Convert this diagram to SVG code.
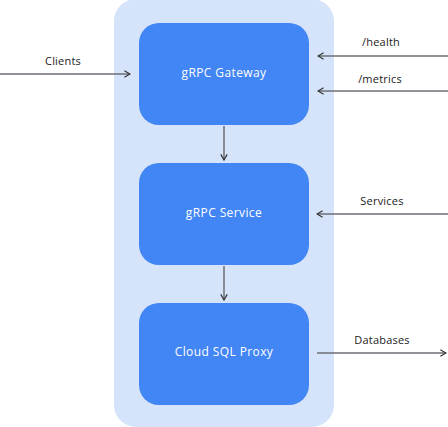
<svg xmlns="http://www.w3.org/2000/svg" width="448" height="427" viewBox="0 0 448 427">
<style>
.node{fill:#4285f4}
.ntext{font-family:"Open Sans","Liberation Sans",sans-serif;font-size:12px;letter-spacing:0.4px;fill:#ffffff;text-anchor:middle}
.ltext{font-family:"Open Sans","Liberation Sans",sans-serif;font-size:11px;letter-spacing:0.2px;fill:#222222;text-anchor:middle}
.conn{stroke:#6b6e74;stroke-width:1.5;fill:none}
</style>
<defs>
<marker id="arr" viewBox="0 0 10 10" refX="9" refY="5" markerWidth="8" markerHeight="8" markerUnits="userSpaceOnUse" orient="auto">
<path d="M2,1 L9,5 L2,9" fill="none" stroke="#333" stroke-width="1.5"/>
</marker>
</defs>
<rect id="container" x="114" y="-1" width="220" height="428" rx="22" fill="#d6e4fb"/>
<g id="gateway"><rect class="node" x="139" y="23" width="170" height="102" rx="20"/><text class="ntext" x="224" y="77">gRPC Gateway</text></g>
<g id="service"><rect class="node" x="139" y="163" width="170" height="102" rx="20"/><text class="ntext" x="224" y="217">gRPC Service</text></g>
<g id="proxy"><rect class="node" x="139" y="303" width="170" height="102" rx="20"/><text class="ntext" x="224" y="356">Cloud SQL Proxy</text></g>
<g id="connectors">
<line class="conn" x1="0" y1="74" x2="130" y2="74" marker-end="url(#arr)"/>
<text class="ltext" x="63" y="65">Clients</text>
<line class="conn" x1="448" y1="56" x2="318" y2="56" marker-end="url(#arr)"/>
<text class="ltext" x="381" y="46">/health</text>
<line class="conn" x1="448" y1="91" x2="318" y2="91" marker-end="url(#arr)"/>
<text class="ltext" x="380" y="83">/metrics</text>
<line class="conn" x1="448" y1="214" x2="317" y2="214" marker-end="url(#arr)"/>
<text class="ltext" x="382" y="205">Services</text>
<line class="conn" x1="317" y1="353" x2="446" y2="353" marker-end="url(#arr)"/>
<text class="ltext" x="382" y="344">Databases</text>
<line class="conn" x1="224" y1="126" x2="224" y2="160" marker-end="url(#arr)"/>
<line class="conn" x1="224" y1="266" x2="224" y2="300" marker-end="url(#arr)"/>
</g>
</svg>
